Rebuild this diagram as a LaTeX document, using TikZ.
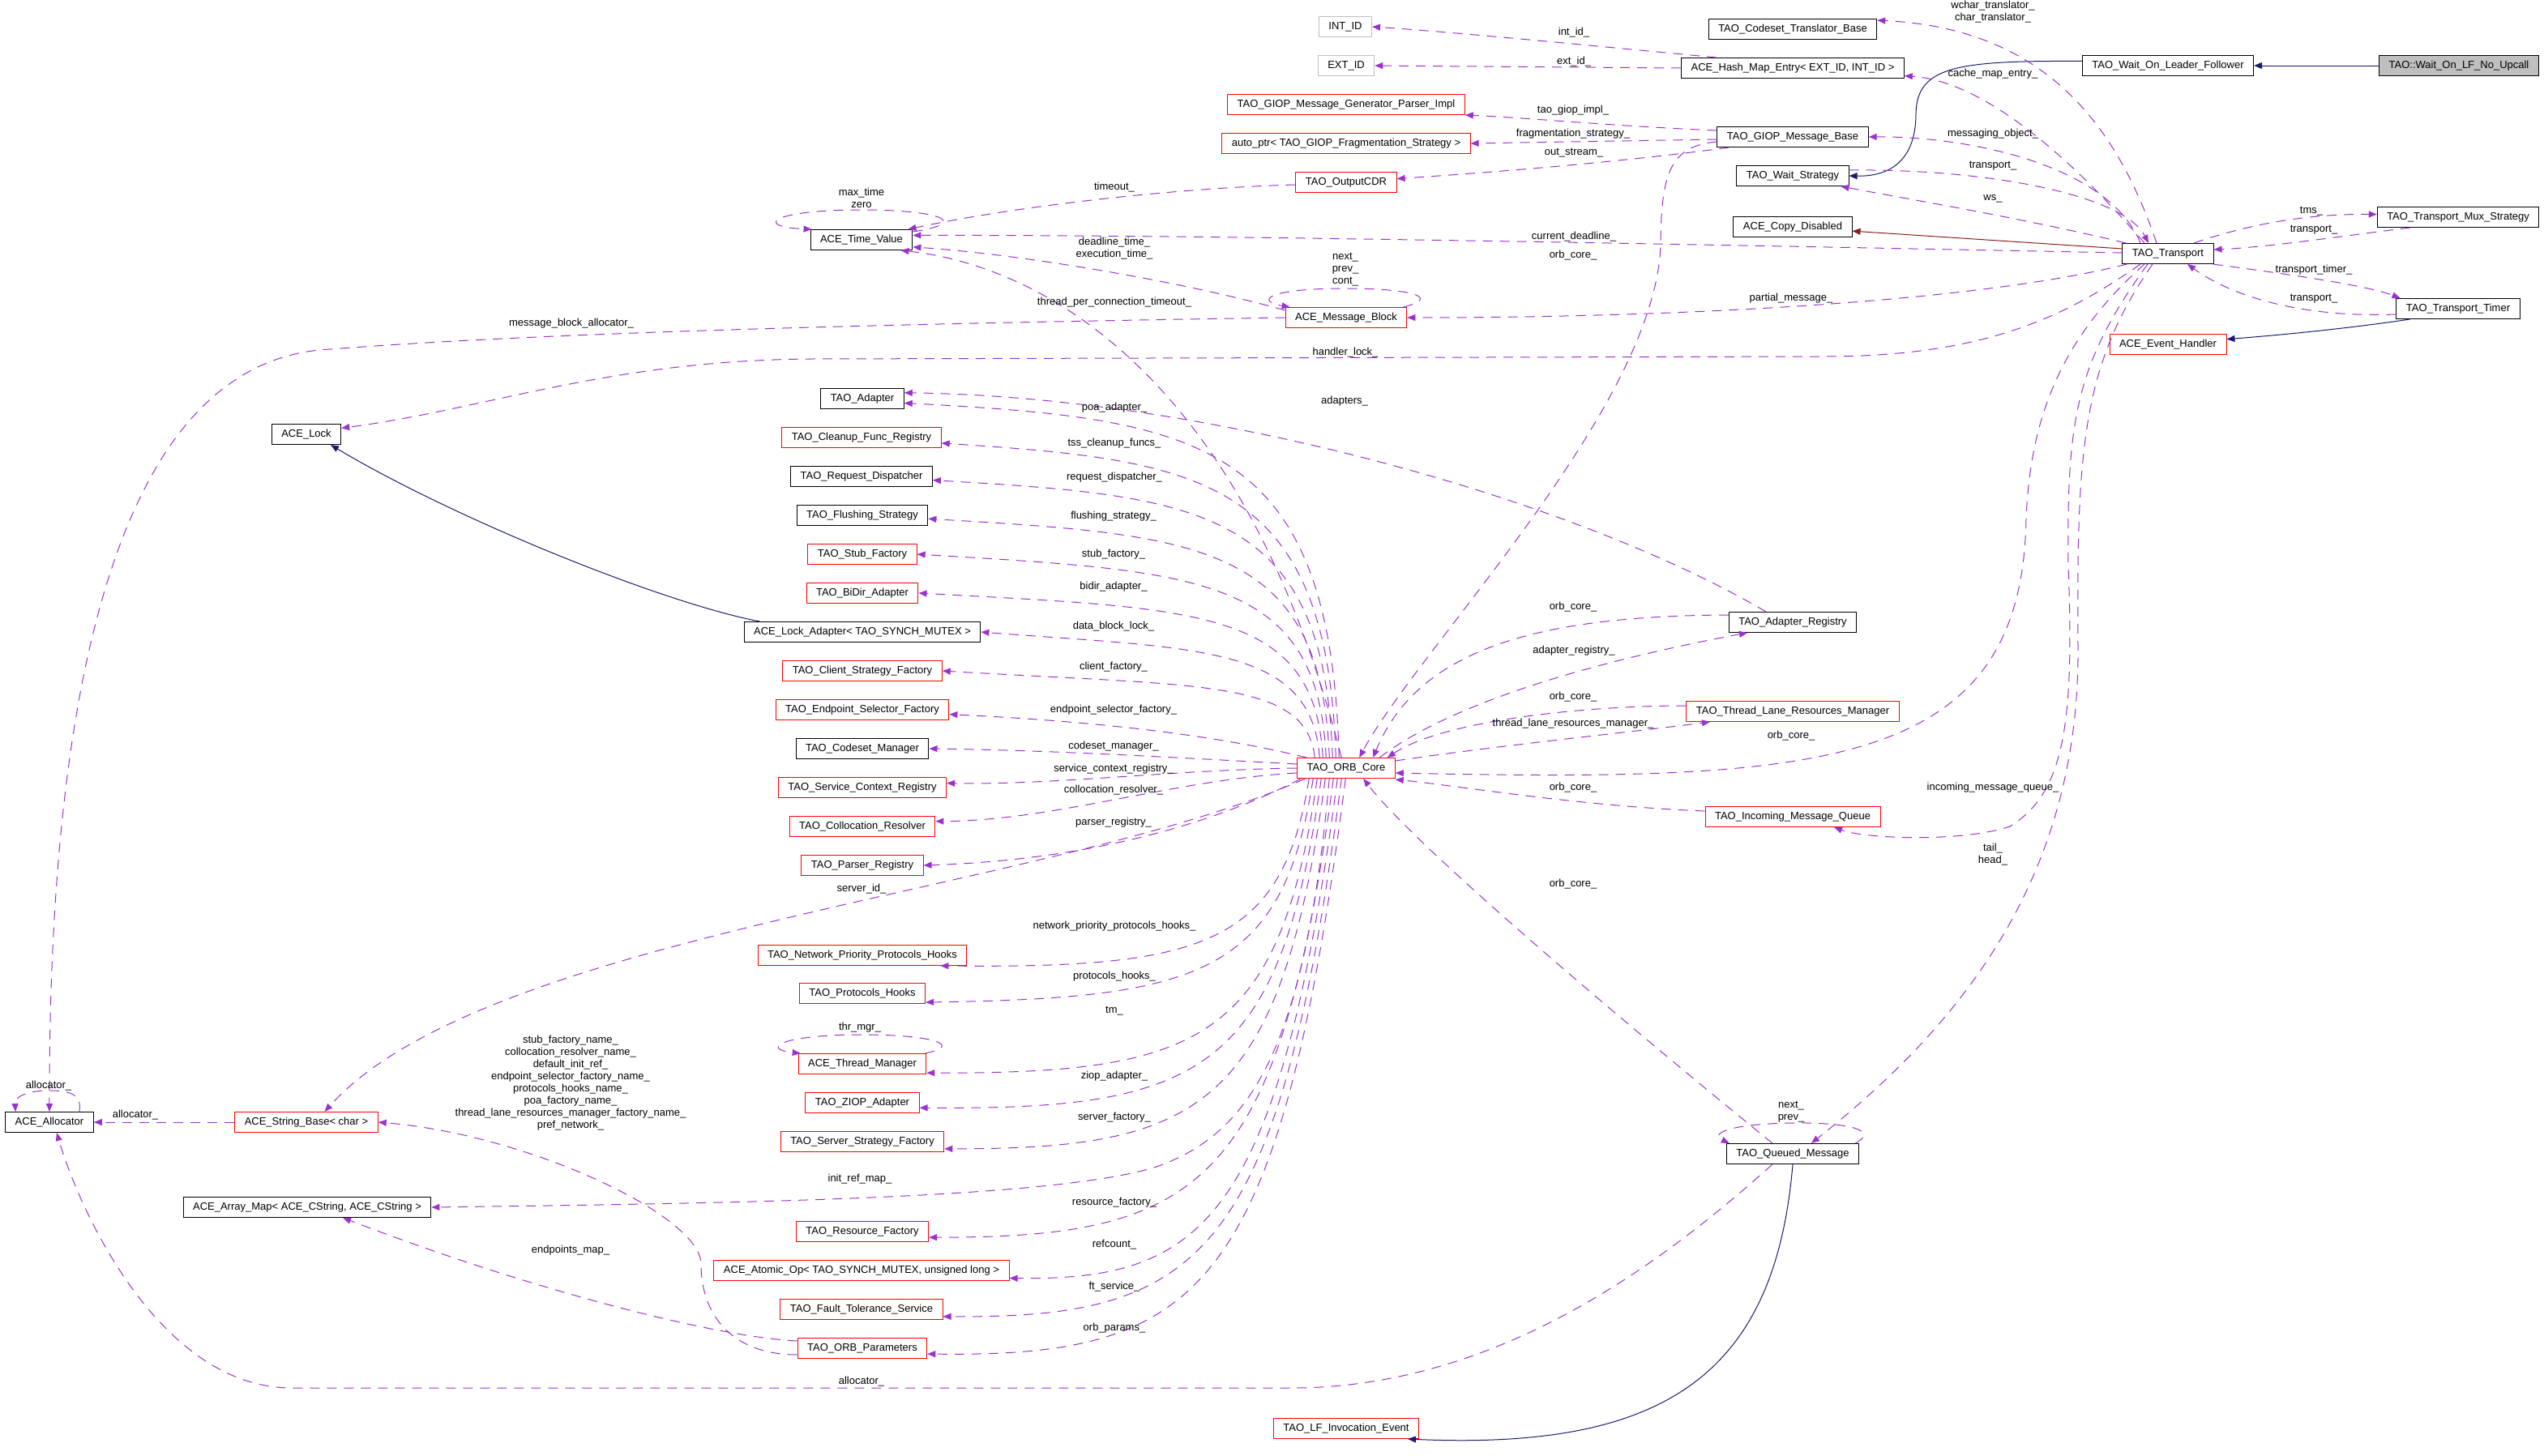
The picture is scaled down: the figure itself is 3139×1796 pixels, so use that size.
\documentclass[tikz,border=0pt]{standalone}
\usepackage{fontspec}
\setmainfont{Liberation Sans}
\usetikzlibrary{arrows.meta}

\definecolor{edgepurple}{HTML}{9A32CD}
\definecolor{inhblue}{HTML}{191970}
\definecolor{privred}{HTML}{8B1A1A}
\definecolor{boxred}{HTML}{FF0000}
\definecolor{boxgray}{HTML}{BFBFBF}

\begin{document}
\begin{tikzpicture}[x=1pt, y=-1pt,
	every node/.style={font=\fontsize{13}{15}\selectfont, inner sep=0pt},
	klass/.style={draw=black, line width=1pt, minimum height=25pt, inner xsep=12pt},
	redklass/.style={klass, draw=boxred},
	grayklass/.style={klass, draw=boxgray},
	focus/.style={klass, fill=boxgray},
	uses/.style={draw=edgepurple, line width=1pt, dash pattern=on 12pt off 9pt, -{Triangle[length=10pt,width=8pt]}},
	isa/.style={draw=inhblue, line width=1pt, -{Triangle[length=10pt,width=8pt]}},
	isapriv/.style={isa, draw=privred},
	lbl/.style={align=center}]

	\useasboundingbox (0,0) rectangle (3139,1796);

	% classes, right part
	\node[focus] (noupcall) at (3034,81) {TAO::Wait\_On\_LF\_No\_Upcall};
	\node[klass] (wolf) at (2675,81) {TAO\_Wait\_On\_Leader\_Follower};
	\node[klass] (transport) at (2675,313) {TAO\_Transport};
	\node[klass] (muxstrat) at (3033,268) {TAO\_Transport\_Mux\_Strategy};
	\node[klass] (timer) at (3033,381) {TAO\_Transport\_Timer};
	\node[redklass] (evhandler) at (2675,425) {ACE\_Event\_Handler};

	\node[klass] (cstrans) at (2212,36) {TAO\_Codeset\_Translator\_Base};
	\node[klass] (hashentry) at (2212,84) {ACE\_Hash\_Map\_Entry< EXT\_ID, INT\_ID >};
	\node[klass] (giopbase) at (2212,169) {TAO\_GIOP\_Message\_Base};
	\node[klass] (waitstrat) at (2212,217) {TAO\_Wait\_Strategy};
	\node[klass] (copydis) at (2212,280) {ACE\_Copy\_Disabled};
	\node[klass] (adreg) at (2212,768) {TAO\_Adapter\_Registry};
	\node[redklass] (tlrm) at (2212,878) {TAO\_Thread\_Lane\_Resources\_Manager};
	\node[redklass] (imq) at (2212,1008) {TAO\_Incoming\_Message\_Queue};
	\node[klass] (qmsg) at (2212,1424) {TAO\_Queued\_Message};

	% classes, middle
	\node[grayklass] (intid) at (1660,33) {INT\_ID};
	\node[grayklass] (extid) at (1661,81) {EXT\_ID};
	\node[redklass] (giopimpl) at (1661,129) {TAO\_GIOP\_Message\_Generator\_Parser\_Impl};
	\node[redklass] (fragstrat) at (1661,177) {auto\_ptr< TAO\_GIOP\_Fragmentation\_Strategy >};
	\node[redklass] (outcdr) at (1661,225) {TAO\_OutputCDR};
	\node[redklass] (msgblock) at (1661,392) {ACE\_Message\_Block};
	\node[redklass] (orbcore) at (1661,948) {TAO\_ORB\_Core};
	\node[redklass] (lfevent) at (1661,1763) {TAO\_LF\_Invocation\_Event};

	% classes, column of ORB members
	\node[klass] (timevalue) at (1063,296) {ACE\_Time\_Value};
	\node[klass] (adapter) at (1064,492) {TAO\_Adapter};
	\node[redklass] (cleanup) at (1063,540) {TAO\_Cleanup\_Func\_Registry};
	\node[klass] (reqdisp) at (1063,588) {TAO\_Request\_Dispatcher};
	\node[klass] (flushing) at (1064,636) {TAO\_Flushing\_Strategy};
	\node[redklass] (stubfac) at (1064,684) {TAO\_Stub\_Factory};
	\node[redklass] (bidir) at (1064,732) {TAO\_BiDir\_Adapter};
	\node[klass] (lockadapter) at (1064,780) {ACE\_Lock\_Adapter< TAO\_SYNCH\_MUTEX >};
	\node[redklass] (clientfac) at (1064,828) {TAO\_Client\_Strategy\_Factory};
	\node[redklass] (epsel) at (1064,876) {TAO\_Endpoint\_Selector\_Factory};
	\node[klass] (codeset) at (1064,924) {TAO\_Codeset\_Manager};
	\node[redklass] (scr) at (1064,972) {TAO\_Service\_Context\_Registry};
	\node[redklass] (collres) at (1064,1020) {TAO\_Collocation\_Resolver};
	\node[redklass] (parser) at (1064,1068) {TAO\_Parser\_Registry};
	\node[redklass] (nphooks) at (1064,1179) {TAO\_Network\_Priority\_Protocols\_Hooks};
	\node[redklass] (phooks) at (1064,1226) {TAO\_Protocols\_Hooks};
	\node[redklass] (thrmgr) at (1064,1313) {ACE\_Thread\_Manager};
	\node[redklass] (ziop) at (1064,1361) {TAO\_ZIOP\_Adapter};
	\node[redklass] (serverfac) at (1064,1409) {TAO\_Server\_Strategy\_Factory};
	\node[redklass] (resfac) at (1064,1520) {TAO\_Resource\_Factory};
	\node[redklass] (atomicop) at (1063,1568) {ACE\_Atomic\_Op< TAO\_SYNCH\_MUTEX, unsigned long >};
	\node[redklass] (ftservice) at (1063,1616) {TAO\_Fault\_Tolerance\_Service};
	\node[redklass] (orbparams) at (1064,1664) {TAO\_ORB\_Parameters};

	% classes, left
	\node[klass] (acelock) at (378,536) {ACE\_Lock};
	\node[klass] (allocator) at (61,1385) {ACE\_Allocator};
	\node[redklass] (strbase) at (378,1385) {ACE\_String\_Base< char >};
	\node[klass] (arraymap) at (379,1490) {ACE\_Array\_Map< ACE\_CString, ACE\_CString >};

	% inheritance
	\draw[isa] (noupcall.west) -- (wolf.east);
	\draw[isa] (wolf.177) .. controls (2420,75) and (2365,80) .. (2364,140) .. controls (2364,200) and (2330,218) .. (waitstrat.east);
	\draw[isapriv] ([yshift=6pt]transport.west) -- (copydis.-4);
	\draw[isa] ([xshift=17pt]timer.south west) .. controls (2900,405) and (2820,413) .. (evhandler.5);
	\draw[isa] (qmsg.south) .. controls (2190,1700) and (2050,1790) .. ([xshift=-14pt]lfevent.south east);
	\draw[isa] ([xshift=20pt]lockadapter.north west) .. controls (820,745) and (560,640) .. ([xshift=30pt]acelock.south);

	% members of TAO_Transport and its neighbours
	\draw[uses] ([xshift=44pt]hashentry.north west) .. controls (1980,58) and (1800,40) .. (intid.east);
	\draw[uses] (hashentry.west) -- (extid.east);
	\draw[uses] ([xshift=-14pt]transport.north) .. controls (2610,150) and (2520,35) .. (cstrans.6);
	\draw[uses] ([xshift=-29pt]transport.north) .. controls (2560,200) and (2450,100) .. (hashentry.-4);
	\draw[uses] ([xshift=-34pt]transport.north) .. controls (2600,200) and (2420,168) .. (giopbase.east);
	\draw[uses] ([yshift=7pt]waitstrat.east) .. controls (2450,208) and (2620,240) .. ([xshift=-24pt]transport.north);
	\draw[uses] ([xshift=-52pt]transport.north) .. controls (2500,270) and (2350,245) .. ([xshift=-10pt]waitstrat.south east);
	\draw[uses] ([yshift=1pt]transport.west) .. controls (2000,300) and (1500,290) .. (timevalue.5);
	\draw[uses] ([xshift=6pt]transport.south west) .. controls (2450,370) and (2100,392) .. (msgblock.east);
	\draw[uses] ([xshift=-34pt]transport.south) .. controls (2550,390) and (2450,440) .. (2250,440) -- (1000,443) .. controls (750,445) and (600,505) .. (acelock.10);
	\draw[uses] ([xshift=-29pt]transport.south) .. controls (2540,420) and (2505,520) .. (2500,640) .. controls (2495,950) and (2250,965) .. ([yshift=-6pt]orbcore.east);
	\draw[uses] ([xshift=-25pt]transport.south) .. controls (2560,450) and (2550,520) .. (2552,700) .. controls (2560,900) and (2545,980) .. (2480,1020) .. controls (2420,1040) and (2300,1035) .. ([xshift=51pt]imq.south);
	\draw[uses] ([xshift=-19pt]transport.south) .. controls (2570,450) and (2562,550) .. (2564,800) .. controls (2566,1100) and (2400,1280) .. ([xshift=23pt]qmsg.north);
	\draw[uses] ([xshift=32pt]transport.north) .. controls (2780,275) and (2850,264) .. (muxstrat.178);
	\draw[uses] ([xshift=41pt]muxstrat.south west) .. controls (2900,290) and (2800,305) .. (transport.5);
	\draw[uses] ([xshift=-1pt]transport.south east) .. controls (2820,338) and (2920,352) .. ([xshift=5pt]timer.north west);
	\draw[uses] ([yshift=-7pt]timer.west) .. controls (2850,392) and (2760,370) .. ([xshift=24pt]transport.south);

	% members of TAO_GIOP_Message_Base
	\draw[uses] ([yshift=8pt]giopbase.west) .. controls (1980,155) and (1880,145) .. (giopimpl.south east);
	\draw[uses] ([yshift=-3pt]giopbase.west) -- (fragstrat.east);
	\draw[uses] ([xshift=15pt]giopbase.south west) .. controls (2000,200) and (1850,212) .. (outcdr.4);
	\draw[uses] ([yshift=-6pt]giopbase.west) .. controls (2060,180) and (2050,215) .. (2049,300) .. controls (2045,500) and (1750,800) .. ([xshift=77pt]orbcore.north west);

	% time value and message block
	\draw[uses] ([yshift=-3pt]timevalue.north east) .. controls (1200,275) and (1160,259) .. (1063,259) .. controls (950,259) and (930,280) .. ([xshift=2pt]timevalue.north west);
	\draw[uses] ([yshift=-3pt]outcdr.west) .. controls (1450,232) and (1250,255) .. ([xshift=-6pt]timevalue.north east);
	\draw[uses] ([yshift=-4pt]msgblock.north west) .. controls (1450,345) and (1250,313) .. (timevalue.-8);
	\draw[uses] ([xshift=-5pt]msgblock.north east) .. controls (1780,367) and (1740,356) .. (1661,356) .. controls (1560,356) and (1550,372) .. ([xshift=6pt]msgblock.north west);
	\draw[uses] (msgblock.west) .. controls (1200,398) and (700,408) .. (408,431) .. controls (200,440) and (60,700) .. (allocator.north);

	% members of TAO_ORB_Core, upwards
	\draw[uses] ([xshift=55pt]orbcore.north west) .. controls (1540,480) and (1300,330) .. (timevalue.-15);
	\draw[uses] ([xshift=52pt]orbcore.north west) .. controls (1642,541) and (1480,517) .. (adapter.-6);
	\draw[uses] ([xshift=48pt]orbcore.north west) .. controls (1638,587) and (1480,568) .. (cleanup.-4);
	\draw[uses] ([xshift=44pt]orbcore.north west) .. controls (1634,626) and (1480,612) .. (reqdisp.-3);
	\draw[uses] ([xshift=40pt]orbcore.north west) .. controls (1630,670) and (1480,660) .. (flushing.-3);
	\draw[uses] ([xshift=36pt]orbcore.north west) .. controls (1626,710) and (1480,705) .. (stubfac.east);
	\draw[uses] ([xshift=32pt]orbcore.north west) .. controls (1622,751) and (1480,751) .. (bidir.east);
	\draw[uses] ([xshift=28pt]orbcore.north west) .. controls (1618,796) and (1480,801) .. (lockadapter.east);
	\draw[uses] ([xshift=22pt]orbcore.north west) .. controls (1612,838) and (1480,847) .. (clientfac.east);
	\draw[uses] ([xshift=12pt]orbcore.north west) .. controls (1570,925) and (1450,895) .. (epsel.-3);
	\draw[uses] ([yshift=5pt]orbcore.west) .. controls (1450,935) and (1300,926) .. (codeset.east);
	\draw[uses] (orbcore.west) .. controls (1450,950) and (1300,969) .. (scr.3);
	\draw[uses] ([yshift=-6pt]orbcore.west) .. controls (1450,962) and (1300,1013) .. (collres.4);
	\draw[uses] ([xshift=5pt]orbcore.south west) .. controls (1530,1000) and (1380,1060) .. (parser.east);

	% members of TAO_ORB_Core, downwards
	\draw[uses] ([xshift=10pt]orbcore.south west) .. controls (1300,1100) and (600,1150) .. (strbase.30);
	\draw[uses] ([xshift=15pt]orbcore.south west) .. controls (1582,1169) and (1480,1195) .. ([xshift=-33pt]nphooks.south east);
	\draw[uses] ([xshift=20pt]orbcore.south west) .. controls (1583,1203) and (1480,1232) .. (phooks.-8);
	\draw[uses] ([xshift=25pt]orbcore.south west) .. controls (1579,1286) and (1480,1325) .. (thrmgr.-8);
	\draw[uses] ([xshift=30pt]orbcore.south west) .. controls (1579,1326) and (1480,1370) .. (ziop.-5);
	\draw[uses] ([xshift=35pt]orbcore.south west) .. controls (1580,1370) and (1480,1418) .. (serverfac.-5);
	\draw[uses] ([xshift=40pt]orbcore.south west) .. controls (1610,1300) and (1540,1400) .. (1427,1440) .. controls (1300,1480) and (900,1485) .. (arraymap.east);
	\draw[uses] ([xshift=45pt]orbcore.south west) .. controls (1579,1468) and (1480,1527) .. (resfac.-5);
	\draw[uses] ([xshift=50pt]orbcore.south west) .. controls (1578,1515) and (1480,1580) .. (atomicop.-3);
	\draw[uses] ([xshift=55pt]orbcore.south west) .. controls (1579,1558) and (1480,1627) .. (ftservice.-5);
	\draw[uses] ([xshift=60pt]orbcore.south west) .. controls (1579,1600) and (1480,1675) .. (orbparams.-5);
	\draw[uses] ([xshift=-2pt]thrmgr.north east) .. controls (1190,1290) and (1150,1277) .. (1064,1277) .. controls (960,1277) and (940,1295) .. ([xshift=3pt]thrmgr.north west);

	% registries and queues around TAO_ORB_Core
	\draw[uses] ([xshift=-33pt]adreg.north) .. controls (1950,620) and (1500,490) .. (adapter.8);
	\draw[uses] ([yshift=9pt]adreg.west) .. controls (1900,760) and (1750,800) .. ([xshift=94pt]orbcore.north west);
	\draw[uses] ([xshift=102pt]orbcore.north west) .. controls (1800,860) and (2000,810) .. ([xshift=-56pt]adreg.south);
	\draw[uses] ([yshift=7pt]tlrm.west) .. controls (1950,871) and (1780,890) .. ([xshift=-10pt]orbcore.north east);
	\draw[uses] ([yshift=-4pt]orbcore.north east) .. controls (1850,920) and (2000,905) .. ([xshift=-102pt]tlrm.south);
	\draw[uses] ([yshift=7pt]imq.west) .. controls (1950,995) and (1800,970) .. ([yshift=-14pt]orbcore.east);
	\draw[uses] ([xshift=-25pt]qmsg.north) .. controls (2050,1300) and (1750,1050) .. ([xshift=82pt]orbcore.south west);
	\draw[uses] ([xshift=-5pt]qmsg.north east) .. controls (2320,1395) and (2280,1385) .. (2212,1386) .. controls (2130,1387) and (2110,1400) .. ([xshift=4pt]qmsg.north west);
	\draw[uses] ([xshift=-25pt]qmsg.south) .. controls (2050,1560) and (1850,1710) .. (1600,1713) -- (360,1713) .. controls (200,1713) and (100,1500) .. ([xshift=9pt]allocator.south);

	% strings and allocators
	\draw[uses] ([yshift=-8pt]orbparams.west) .. controls (905,1672) and (865,1625) .. (865,1560) .. controls (865,1500) and (650,1400) .. (strbase.east);
	\draw[uses] ([yshift=9pt]orbparams.west) .. controls (880,1650) and (650,1590) .. ([xshift=44pt]arraymap.south);
	\draw[uses] (strbase.west) -- (allocator.east);
	\draw[uses] ([xshift=-18pt]allocator.north east) .. controls (102,1350) and (85,1346) .. (61,1346) .. controls (30,1346) and (18,1355) .. ([xshift=13pt]allocator.north west);

	% edge labels
	\node[lbl] (l-maxtime) at (1063,244) {max\_time\\zero};
	\node[lbl] (l-timeout) at (1375,231) {timeout\_};
	\node[lbl] (l-deadline) at (1375,307) {deadline\_time\_\\execution\_time\_};
	\node[lbl] (l-tpct) at (1375,373) {thread\_per\_connection\_timeout\_};
	\node[lbl] (l-poa) at (1375,503) {poa\_adapter\_};
	\node[lbl] (l-tss) at (1375,547) {tss\_cleanup\_funcs\_};
	\node[lbl] (l-reqdisp) at (1375,589) {request\_dispatcher\_};
	\node[lbl] (l-flushing) at (1374,637) {flushing\_strategy\_};
	\node[lbl] (l-stubfac) at (1374,684) {stub\_factory\_};
	\node[lbl] (l-bidir) at (1374,724) {bidir\_adapter\_};
	\node[lbl] (l-dblock) at (1374,773) {data\_block\_lock\_};
	\node[lbl] (l-clientfac) at (1374,823) {client\_factory\_};
	\node[lbl] (l-epsel) at (1374,876) {endpoint\_selector\_factory\_};
	\node[lbl] (l-codeset) at (1374,921) {codeset\_manager\_};
	\node[lbl] (l-scr) at (1374,949) {service\_context\_registry\_};
	\node[lbl] (l-collres) at (1374,975) {collocation\_resolver\_};
	\node[lbl] (l-parser) at (1374,1015) {parser\_registry\_};
	\node[lbl] (l-serverid) at (1063,1097) {server\_id\_};
	\node[lbl] (l-nphooks) at (1375,1143) {network\_priority\_protocols\_hooks\_};
	\node[lbl] (l-phooks) at (1375,1205) {protocols\_hooks\_};
	\node[lbl] (l-tm) at (1375,1248) {tm\_};
	\node[lbl] (l-thrmgr) at (1061,1268) {thr\_mgr\_};
	\node[lbl] (l-ziop) at (1375,1328) {ziop\_adapter\_};
	\node[lbl] (l-serverfac) at (1375,1379) {server\_factory\_};
	\node[lbl] (l-initref) at (1061,1455) {init\_ref\_map\_};
	\node[lbl] (l-resfac) at (1375,1484) {resource\_factory\_};
	\node[lbl] (l-refcount) at (1375,1536) {refcount\_};
	\node[lbl] (l-ft) at (1375,1588) {ft\_service\_};
	\node[lbl] (l-orbparams) at (1375,1639) {orb\_params\_};
	\node[lbl] (l-qalloc) at (1063,1705) {allocator\_};
	\node[lbl] (l-mballoc) at (705,399) {message\_block\_allocator\_};
	\node[lbl] (l-selfalloc) at (60,1340) {allocator\_};
	\node[lbl] (l-stralloc) at (167,1376) {allocator\_};
	\node[lbl] (l-names) at (704,1337) {stub\_factory\_name\_\\collocation\_resolver\_name\_\\default\_init\_ref\_\\endpoint\_selector\_factory\_name\_\\protocols\_hooks\_name\_\\poa\_factory\_name\_\\thread\_lane\_resources\_manager\_factory\_name\_\\pref\_network\_};
	\node[lbl] (l-epmap) at (704,1543) {endpoints\_map\_};
	\node[lbl] (l-intid) at (1942,40) {int\_id\_};
	\node[lbl] (l-extid) at (1942,76) {ext\_id\_};
	\node[lbl] (l-giopimpl) at (1941,136) {tao\_giop\_impl\_};
	\node[lbl] (l-frag) at (1941,165) {fragmentation\_strategy\_};
	\node[lbl] (l-outstream) at (1942,189) {out\_stream\_};
	\node[lbl] (l-deadl) at (1942,292) {current\_deadline\_};
	\node[lbl] (l-giopcore) at (1941,315) {orb\_core\_};
	\node[lbl] (l-mbself) at (1660,333) {next\_\\prev\_\\cont\_};
	\node[lbl] (l-partial) at (2210,368) {partial\_message\_};
	\node[lbl] (l-hlock) at (1660,435) {handler\_lock\_};
	\node[lbl] (l-adapters) at (1659,495) {adapters\_};
	\node[lbl] (l-translator) at (2459,15) {wchar\_translator\_\\char\_translator\_};
	\node[lbl] (l-cache) at (2459,91) {cache\_map\_entry\_};
	\node[lbl] (l-msgobj) at (2459,165) {messaging\_object\_};
	\node[lbl] (l-wstrans) at (2459,205) {transport\_};
	\node[lbl] (l-ws) at (2459,245) {ws\_};
	\node[lbl] (l-tms) at (2852,261) {tms\_};
	\node[lbl] (l-muxtrans) at (2855,284) {transport\_};
	\node[lbl] (l-ttimer) at (2855,333) {transport\_timer\_};
	\node[lbl] (l-timertrans) at (2855,369) {transport\_};
	\node[lbl] (l-adregcore) at (1941,749) {orb\_core\_};
	\node[lbl] (l-adreg) at (1942,803) {adapter\_registry\_};
	\node[lbl] (l-tlrmcore) at (1941,860) {orb\_core\_};
	\node[lbl] (l-tlrm) at (1941,893) {thread\_lane\_resources\_manager\_};
	\node[lbl] (l-transcore) at (2210,908) {orb\_core\_};
	\node[lbl] (l-imqcore) at (1941,972) {orb\_core\_};
	\node[lbl] (l-qmsgcore) at (1941,1091) {orb\_core\_};
	\node[lbl] (l-imq) at (2459,972) {incoming\_message\_queue\_};
	\node[lbl] (l-tailhead) at (2459,1055) {tail\_\\head\_};
	\node[lbl] (l-qmsgself) at (2210,1372) {next\_\\prev\_};
\end{tikzpicture}
\end{document}
